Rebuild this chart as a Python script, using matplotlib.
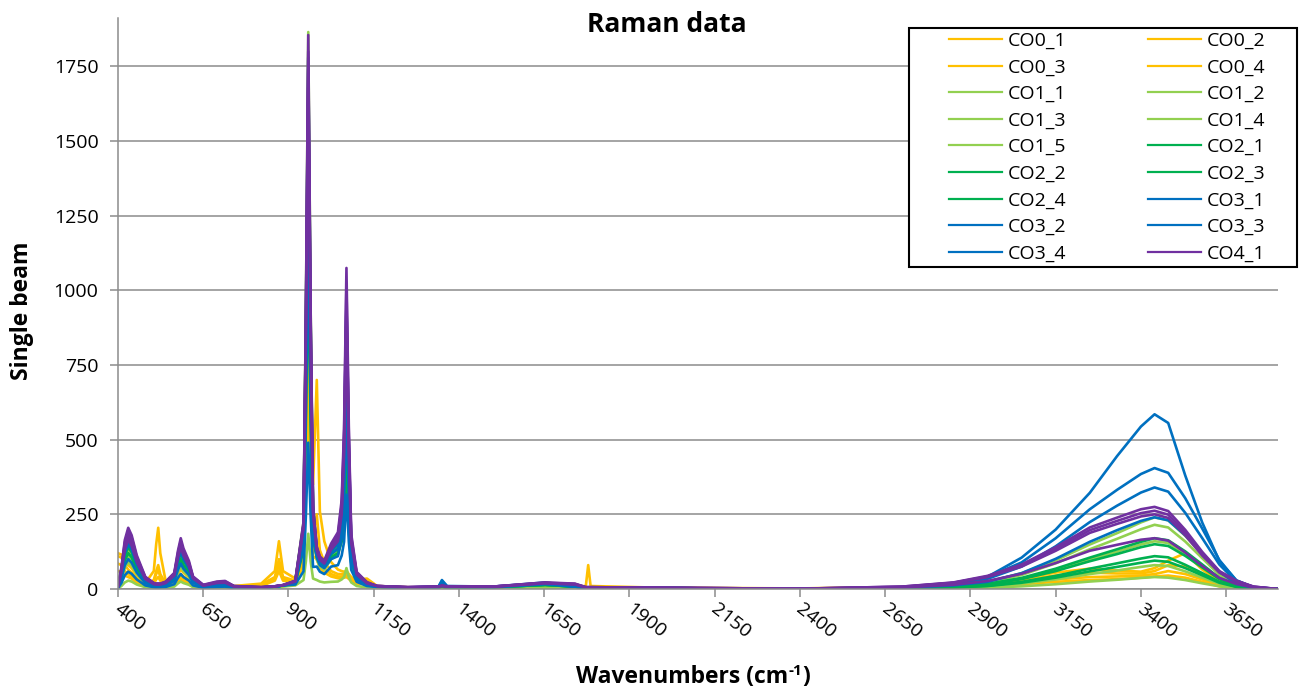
import numpy as np
import matplotlib.pyplot as plt
import matplotlib.transforms as mtransforms
from matplotlib.patches import Rectangle

plt.rcParams['font.family'] = ['Open Sans', 'DejaVu Sans']

# wavenumber grids (cm-1)
low_wn = [400, 410, 420, 430, 440, 455, 480, 505, 512, 518, 524, 540, 565, 576, 584, 592, 608, 620, 650, 690,
          714, 740, 820, 860, 872, 884, 920, 944, 951, 958, 965, 972, 983, 992, 1005, 1025, 1045, 1056, 1063, 1070,
          1077, 1084, 1100, 1130, 1160, 1250, 1340, 1350, 1365, 1500, 1653, 1740, 1772, 1779, 1786, 2000]
oh_wn = [2400, 2700, 2850, 2950, 3050, 3150, 3250, 3330, 3400, 3440, 3480, 3530, 3580, 3630, 3680, 3730, 3800]

names = ['CO0_1', 'CO0_2', 'CO0_3', 'CO0_4',
         'CO1_1', 'CO1_2', 'CO1_3', 'CO1_4', 'CO1_5',
         'CO2_1', 'CO2_2', 'CO2_3', 'CO2_4',
         'CO3_1', 'CO3_2', 'CO3_3', 'CO3_4',
         'CO4_1', 'CO4_2', 'CO4_3', 'CO4_4']
colors = ['#FFC000'] * 4 + ['#92D050'] * 5 + ['#00B050'] * 4 + ['#0070C0'] * 4 + ['#7030A0'] * 4

# single beam, 400-2000 cm-1
low_vals = [
    [120, 115, 90, 80, 70, 45, 20, 60, 150, 205, 120, 25, 25, 50, 65, 55, 40, 20, 8, 15,
     15, 10, 18, 60, 160, 60, 35, 130, 550, 1100, 600, 350, 700, 260, 160, 90, 65, 60, 58, 60,
     50, 40, 30, 35, 10, 6, 5, 5, 5, 5, 8, 8, 10, 80, 10, 4],
    [110, 105, 80, 65, 55, 35, 15, 30, 60, 80, 50, 18, 20, 40, 50, 42, 30, 15, 6, 12,
     12, 8, 15, 40, 100, 40, 28, 110, 470, 950, 470, 180, 250, 130, 90, 60, 50, 50, 52, 55,
     45, 35, 25, 28, 8, 5, 4, 4, 4, 4, 6, 6, 5, 5, 5, 3],
    [85, 80, 60, 50, 42, 28, 12, 25, 50, 65, 40, 15, 15, 30, 40, 34, 24, 12, 5, 10,
     10, 6, 12, 35, 80, 35, 24, 95, 400, 800, 400, 140, 150, 90, 70, 50, 42, 42, 45, 48,
     40, 30, 20, 22, 7, 4, 4, 4, 4, 4, 5, 5, 4, 4, 4, 3],
    [60, 58, 45, 40, 35, 22, 10, 18, 32, 40, 28, 12, 12, 24, 30, 26, 18, 10, 4, 8,
     8, 5, 10, 28, 60, 28, 20, 80, 330, 650, 330, 110, 100, 70, 55, 42, 36, 36, 38, 40,
     34, 26, 16, 18, 6, 4, 4, 4, 4, 4, 5, 5, 4, 4, 4, 3],
    [8, 52, 120, 150, 132, 82, 30, 15, 14, 14, 14, 18, 38, 91, 120, 96, 66, 30, 10, 18,
     20, 8, 5, 8, 10, 12, 28, 224, 932, 1865, 932, 280, 128, 98, 85, 135, 165, 255, 450, 900,
     450, 156, 50, 20, 8, 5, 6, 8, 6, 6, 14, 8, 5, 5, 5, 3],
    [6, 46, 104, 130, 114, 72, 26, 13, 12, 12, 12, 16, 34, 80, 105, 84, 58, 26, 8, 16,
     17, 6, 5, 8, 10, 12, 25, 198, 825, 1650, 825, 248, 112, 86, 75, 120, 145, 220, 375, 750,
     375, 133, 44, 17, 8, 5, 6, 8, 6, 6, 14, 8, 5, 5, 5, 3],
    [6, 38, 88, 110, 97, 60, 22, 11, 10, 10, 10, 13, 29, 68, 90, 72, 50, 22, 7, 13,
     14, 6, 5, 8, 10, 12, 22, 180, 750, 1500, 750, 225, 105, 80, 70, 110, 130, 190, 300, 600,
     300, 112, 39, 16, 8, 5, 6, 8, 6, 6, 14, 8, 5, 5, 5, 3],
    [4, 32, 72, 90, 79, 50, 18, 9, 8, 8, 8, 11, 24, 57, 75, 60, 41, 19, 6, 11,
     12, 4, 5, 8, 10, 12, 20, 156, 650, 1300, 650, 195, 98, 75, 65, 100, 115, 161, 230, 460,
     230, 92, 35, 14, 8, 5, 6, 8, 6, 6, 14, 8, 5, 5, 5, 3],
    [2, 10, 22, 28, 25, 15, 6, 3, 3, 3, 3, 4, 8, 19, 25, 20, 14, 6, 2, 4,
     4, 2, 3, 5, 6, 8, 12, 30, 92, 185, 92, 35, 30, 25, 22, 24, 25, 32, 40, 70,
     40, 22, 10, 5, 4, 3, 3, 3, 3, 3, 5, 3, 2, 2, 2, 2],
    [9, 65, 148, 185, 163, 102, 37, 18, 17, 17, 17, 22, 48, 114, 150, 120, 82, 38, 12, 22,
     24, 9, 5, 8, 10, 12, 27, 214, 890, 1780, 890, 267, 135, 104, 90, 135, 160, 230, 350, 700,
     350, 134, 48, 19, 8, 5, 6, 8, 6, 6, 14, 8, 5, 5, 5, 3],
    [8, 56, 128, 160, 141, 88, 32, 16, 14, 14, 14, 19, 43, 103, 135, 108, 74, 34, 11, 19,
     21, 8, 5, 8, 10, 12, 22, 180, 750, 1500, 750, 225, 123, 94, 82, 126, 150, 208, 290, 580,
     290, 118, 45, 18, 8, 5, 6, 8, 6, 6, 14, 8, 5, 5, 5, 3],
    [7, 49, 112, 140, 123, 77, 28, 14, 13, 13, 13, 17, 38, 91, 120, 96, 66, 30, 10, 17,
     18, 7, 5, 8, 10, 12, 20, 162, 675, 1350, 675, 202, 117, 90, 78, 116, 135, 182, 235, 470,
     235, 101, 40, 16, 8, 5, 6, 8, 6, 6, 14, 8, 5, 5, 5, 3],
    [6, 42, 96, 120, 106, 66, 24, 12, 11, 11, 11, 14, 32, 76, 100, 80, 55, 25, 8, 14,
     16, 6, 5, 8, 10, 12, 18, 132, 550, 1100, 550, 165, 108, 83, 72, 106, 120, 159, 195, 390,
     195, 87, 36, 14, 8, 5, 6, 8, 6, 6, 14, 8, 5, 5, 5, 3],
    [8, 60, 136, 170, 150, 94, 34, 17, 15, 15, 15, 20, 46, 110, 145, 116, 80, 36, 12, 20,
     22, 8, 5, 8, 10, 12, 24, 192, 800, 1600, 800, 240, 128, 98, 85, 128, 150, 246, 480, 960,
     480, 156, 45, 18, 8, 5, 8, 30, 10, 8, 22, 8, 5, 5, 5, 3],
    [8, 52, 120, 150, 132, 82, 30, 15, 14, 14, 14, 18, 40, 95, 125, 100, 69, 31, 10, 18,
     20, 8, 5, 8, 10, 12, 22, 174, 725, 1450, 725, 218, 120, 92, 80, 118, 135, 215, 400, 800,
     400, 134, 40, 16, 8, 5, 8, 26, 9, 7, 20, 8, 5, 5, 5, 3],
    [5, 35, 80, 100, 88, 55, 20, 10, 9, 9, 9, 12, 27, 65, 85, 68, 47, 21, 7, 12,
     13, 5, 5, 8, 10, 12, 18, 144, 600, 1200, 600, 180, 105, 80, 70, 100, 110, 170, 300, 600,
     300, 104, 33, 13, 8, 5, 7, 22, 8, 7, 18, 8, 5, 5, 5, 3],
    [3, 20, 46, 58, 51, 32, 12, 6, 5, 5, 5, 7, 16, 38, 50, 40, 28, 12, 4, 7,
     8, 3, 5, 8, 10, 12, 15, 59, 245, 490, 245, 74, 75, 58, 50, 75, 80, 112, 158, 316,
     158, 64, 24, 10, 7, 5, 6, 18, 7, 6, 16, 8, 5, 5, 5, 3],
    [10, 72, 164, 205, 180, 113, 41, 20, 18, 18, 18, 25, 54, 129, 170, 136, 94, 42, 14, 25,
     27, 10, 6, 9, 11, 13, 28, 223, 928, 1855, 928, 278, 142, 109, 95, 152, 190, 298, 538, 1075,
     538, 184, 57, 23, 10, 6, 8, 12, 9, 8, 22, 18, 6, 6, 6, 4],
    [10, 68, 156, 195, 172, 107, 39, 20, 18, 18, 18, 23, 51, 122, 160, 128, 88, 40, 13, 23,
     25, 10, 6, 9, 11, 13, 27, 216, 900, 1800, 900, 270, 138, 106, 92, 146, 180, 282, 510, 1020,
     510, 174, 54, 22, 10, 6, 8, 11, 8, 8, 21, 17, 6, 6, 6, 4],
    [9, 63, 144, 180, 158, 99, 36, 18, 16, 16, 16, 22, 48, 114, 150, 120, 82, 38, 12, 22,
     23, 9, 6, 9, 11, 13, 26, 209, 870, 1740, 870, 261, 132, 101, 88, 139, 170, 266, 480, 960,
     480, 164, 51, 20, 10, 6, 8, 11, 8, 8, 20, 16, 6, 6, 6, 4],
    [8, 58, 132, 165, 145, 91, 33, 16, 15, 15, 15, 20, 45, 106, 140, 112, 77, 35, 11, 20,
     21, 8, 6, 9, 11, 13, 25, 202, 840, 1680, 840, 252, 128, 98, 85, 132, 160, 250, 450, 900,
     450, 154, 48, 19, 10, 6, 8, 10, 8, 8, 19, 15, 6, 6, 6, 4],
]

# single beam, OH stretching band 2400-3800 cm-1
oh_vals = [
    [2, 6, 12, 20, 35, 55, 68, 62, 58, 70, 95, 120, 65, 25, 8, 2, 0],
    [2, 5, 10, 17, 30, 45, 55, 52, 52, 60, 80, 75, 45, 18, 5, 1, 0],
    [1, 4, 8, 13, 22, 32, 40, 42, 45, 50, 60, 50, 32, 12, 4, 1, 0],
    [1, 3, 6, 10, 16, 24, 30, 33, 38, 42, 45, 38, 24, 9, 3, 1, 0],
    [0, 5, 12, 24, 53, 96, 149, 187, 223, 240, 230, 178, 115, 53, 17, 4, 0],
    [0, 4, 11, 22, 47, 86, 133, 168, 200, 215, 206, 159, 103, 47, 15, 3, 0],
    [0, 3, 8, 16, 35, 64, 99, 125, 149, 160, 154, 118, 77, 35, 11, 2, 0],
    [0, 2, 4, 8, 18, 32, 50, 62, 74, 80, 77, 59, 38, 18, 6, 1, 0],
    [0, 1, 2, 4, 9, 16, 25, 31, 37, 40, 38, 30, 19, 9, 3, 1, 0],
    [0, 3, 9, 17, 37, 68, 105, 133, 158, 170, 163, 126, 82, 37, 12, 3, 0],
    [0, 3, 8, 15, 33, 60, 93, 117, 140, 150, 144, 111, 72, 33, 10, 2, 0],
    [0, 2, 6, 11, 24, 44, 68, 86, 102, 110, 106, 81, 53, 24, 8, 2, 0],
    [0, 2, 5, 10, 21, 38, 59, 74, 88, 95, 91, 70, 46, 21, 7, 1, 0],
    [0, 6, 20, 41, 105, 199, 322, 445, 544, 585, 556, 380, 222, 94, 29, 6, 0],
    [0, 6, 20, 40, 89, 170, 267, 332, 385, 405, 389, 304, 202, 97, 28, 6, 0],
    [0, 5, 17, 34, 75, 143, 224, 279, 323, 340, 326, 255, 170, 82, 24, 5, 0],
    [0, 4, 12, 24, 53, 101, 158, 197, 228, 240, 230, 180, 120, 58, 17, 4, 0],
    [1, 8, 22, 44, 82, 140, 206, 239, 267, 275, 261, 198, 124, 60, 28, 8, 0],
    [1, 8, 21, 42, 79, 134, 197, 228, 254, 262, 249, 189, 118, 58, 26, 8, 0],
    [1, 7, 20, 40, 75, 128, 188, 218, 243, 250, 238, 180, 112, 55, 25, 7, 0],
    [1, 5, 14, 27, 51, 87, 128, 148, 165, 170, 162, 122, 77, 37, 17, 5, 0],
]

x_ticks = list(range(400, 3651, 250))
y_ticks = list(range(0, 1751, 250))

W, H = 1300, 688
fig = plt.figure(figsize=(W / 100, H / 100), dpi=100)
ax = fig.add_axes([118 / W, 1 - 589 / H, 1160 / W, 571 / H])

wn = low_wn + oh_wn
handles = []
for name, col, lo, oh in zip(names, colors, low_vals, oh_vals):
    h, = ax.plot(wn, lo + oh, color=col, lw=1.9, label=name, solid_joinstyle='round')
    handles.append(h)

ax.set_xlim(400, 3802)
ax.set_ylim(0, 1912)
ax.set_xticks(x_ticks)
ax.set_yticks(y_ticks)
ax.grid(axis='y', color='#8c8c8c', lw=1.1)
ax.set_axisbelow(True)
for s in ['top', 'right']:
    ax.spines[s].set_visible(False)
for s in ['left', 'bottom']:
    ax.spines[s].set_color('#8c8c8c')
    ax.spines[s].set_linewidth(1.1)
ax.tick_params(axis='both', colors='#8c8c8c', labelcolor='black', labelsize=14, length=6, width=1.1)
ax.tick_params(axis='y', pad=8)

offset = mtransforms.ScaledTranslation(4 / 100, 2 / 100, fig.dpi_scale_trans)
for lab in ax.get_xticklabels():
    lab.set_rotation(-38)
    lab.set_ha('left')
    lab.set_va('top')
    lab.set_rotation_mode('anchor')
    lab.set_transform(lab.get_transform() + offset)

fig.text(667 / W, 1 - 25 / H, 'Raman data', ha='center', va='center',
         fontsize=19, fontweight='bold')
fig.text(22 / W, 1 - 311 / H, 'Single beam', ha='center', va='center', rotation=90,
         fontsize=16.5, fontweight='bold')

# x axis title with a superscript hyphen, built from three pieces
r = fig.canvas.get_renderer()
base_y = 1 - 683 / H
p1 = fig.text(0, base_y, 'Wavenumbers (cm', fontsize=16.5, fontweight='bold', va='baseline')
p2 = fig.text(0, base_y + 8 / H, '-1', fontsize=11, fontweight='bold', va='baseline')
p3 = fig.text(0, base_y, ')', fontsize=16.5, fontweight='bold', va='baseline')
w1 = p1.get_window_extent(r).width
w2 = p2.get_window_extent(r).width
w3 = p3.get_window_extent(r).width
x0 = 693 - (w1 + w2 + w3) / 2
p1.set_x(x0 / W)
p2.set_x((x0 + w1) / W)
p3.set_x((x0 + w1 + w2) / W)

# legend, filled row by row like the original
order = [i for i in range(0, 18, 2)] + [i for i in range(1, 18, 2)]
leg = fig.legend(handles=[handles[i] for i in order], labels=[names[i] for i in order], ncol=2,
                 loc='upper left', bbox_to_anchor=(949 / W, 1 - 32 / H),
                 fontsize=14, frameon=False, borderpad=0, labelspacing=0.44,
                 handlelength=2.73, handletextpad=0.28, columnspacing=4.2, borderaxespad=0)
for ln in leg.get_lines():
    ln.set_linewidth(1.6)
fig.patches.append(Rectangle((909 / W, 1 - 267 / H), 388 / W, 239 / H, transform=fig.transFigure,
                             fill=True, facecolor='white', edgecolor='black', lw=1.5, zorder=2))
leg.set_zorder(3)

fig.savefig('out.png', dpi=100)
